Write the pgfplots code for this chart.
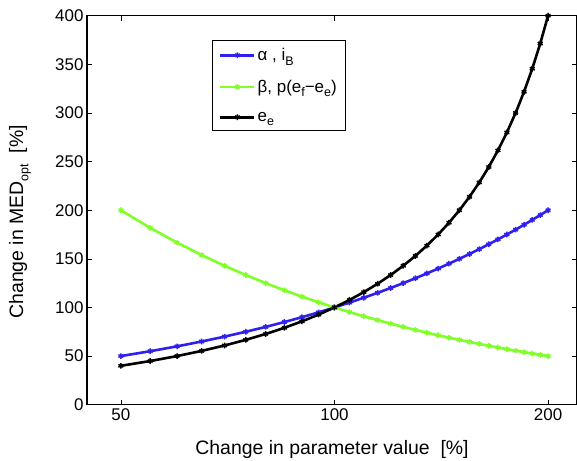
\documentclass[border=0pt]{standalone}
\usepackage{pgfplots}
\pgfplotsset{compat=1.18}
\usepackage{fontspec}
\setmainfont{Liberation Sans}
\definecolor{serblue}{RGB}{48,32,240}
\definecolor{sergreen}{RGB}{128,255,40}
\newcommand{\sub}[1]{\raisebox{-0.5ex}{\fontsize{12.5}{12.5}\selectfont #1}}

\pgfplotstableread{
x    a     b       e
50   50    200     40
55   55    181.82  44.90
60   60    166.67  50
65   65    153.85  55.32
70   70    142.86  60.87
75   75    133.33  66.67
80   80    125     72.73
85   85    117.65  79.07
90   90    111.11  85.71
95   95    105.26  92.68
100  100   100     100
105  105   95.24   107.69
110  110   90.91   115.79
115  115   86.96   124.32
120  120   83.33   133.33
125  125   80      142.86
130  130   76.92   152.94
135  135   74.07   163.64
140  140   71.43   175
145  145   68.97   187.10
150  150   66.67   200
155  155   64.52   213.79
160  160   62.5    228.57
165  165   60.61   244.44
170  170   58.82   261.54
175  175   57.14   280
180  180   55.56   300
185  185   54.05   321.74
190  190   52.63   345.45
195  195   51.28   371.43
200  200   50      400
}\meddata

\begin{document}
\begin{tikzpicture}
\begin{axis}[
  scale only axis, width=490bp, height=389bp,
  xmode=log, xmin=44.8, xmax=219.7, ymin=0, ymax=400,
  xtick={50,100,200}, xticklabels={50,100,200}, xminorticks=false,
  ytick={0,50,...,400},
  /pgf/number format/assume math mode=true,
  tick label style={font=\fontsize{17}{17}\selectfont},
  major tick length=5bp, tick style={black, line width=0.6bp},
  axis line style={line width=1.2bp},
  xlabel={Change in parameter value\ \ [\%]},
  ylabel={Change in MED\sub{opt}\ \ [\%]},
  label style={font=\fontsize{19.5}{19.5}\selectfont},
  xlabel style={at={(axis description cs:0.5,0)}, anchor=north, yshift=-32bp},
  ylabel style={at={(axis description cs:0,0.47)}, anchor=center, yshift=67bp},
  legend cell align=left,
  legend style={at={(0.2545,0.9375)}, anchor=north west, draw=black,
    line width=0.8bp, font=\fontsize{17}{17}\selectfont, row sep=14bp,
    inner xsep=7bp, inner ysep=6bp},
  legend image code/.code={\draw[#1, mark repeat=2, mark phase=2]
    plot coordinates {(0bp,0bp) (17bp,0bp) (34bp,0bp)};},
  every axis plot/.append style={line width=2.6bp, mark=asterisk,
    mark size=2.8bp, mark options={line width=1.5bp}},
]
\addplot[serblue] table[x=x, y=a] {\meddata};
\addlegendentry{α , i\sub{B}}
\addplot[sergreen] table[x=x, y=b] {\meddata};
\addlegendentry{ β, p(e\sub{f}−e\sub{e})}
\addplot[black] table[x=x, y=e] {\meddata};
\addlegendentry{e\sub{e}}
\end{axis}
\pgfresetboundingbox
\useasboundingbox (-87bp,-56bp) rectangle (490bp,404.7bp);
\end{tikzpicture}
\end{document}
